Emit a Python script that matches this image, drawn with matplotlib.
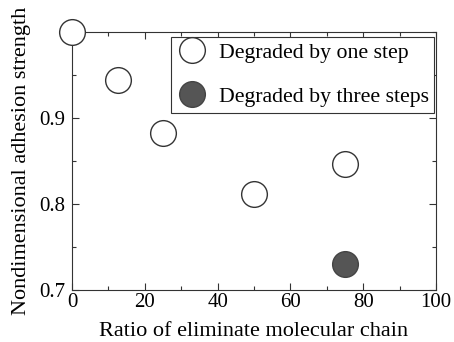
import matplotlib
matplotlib.use("Agg")
import matplotlib.pyplot as plt
from matplotlib.ticker import MultipleLocator

plt.rcParams['font.family'] = ['Liberation Serif', 'DejaVu Serif']

# data
ratio_one = [0, 12.5, 25, 50, 75]
strength_one = [1.0, 0.944, 0.882, 0.812, 0.847]
ratio_three = [75]
strength_three = [0.730]

fig = plt.figure(figsize=(4.54, 3.42), dpi=100)
ax = fig.add_axes([72/454, 1-290/342, 364/454, 258/342])

ax.plot(ratio_one, strength_one, 'o', ms=18.5, mfc='white', mec='#333333',
        mew=1.0, clip_on=False, zorder=3, label='Degraded by one step')
ax.plot(ratio_three, strength_three, 'o', ms=18.5, mfc='#555555', mec='#444444',
        mew=1.0, clip_on=False, zorder=3, label='Degraded by three steps')

ax.set_xlim(0, 100)
ax.set_ylim(0.7, 1.0)
ax.xaxis.set_major_locator(MultipleLocator(20))
ax.xaxis.set_minor_locator(MultipleLocator(10))
ax.set_yticks([0.7, 0.8, 0.9])
ax.yaxis.set_minor_locator(MultipleLocator(0.05))
ax.tick_params(which='both', direction='in', top=True, right=True,
               labelsize=15, width=0.8, color='#333333')
ax.tick_params(which='major', length=5)
ax.tick_params(which='minor', length=3)
ax.tick_params(axis='x', which='major', pad=2)
ax.tick_params(axis='y', which='major', pad=5)
for s in ax.spines.values():
    s.set_linewidth(0.8)
    s.set_color('#333333')

ax.set_xlabel('Ratio of eliminate molecular chain', fontsize=16, labelpad=7)
ax.set_ylabel('Nondimensional adhesion strength', fontsize=16, labelpad=6)

leg = ax.legend(loc='upper right', bbox_to_anchor=(0.995, 0.98), fontsize=15.7,
                fancybox=False, edgecolor='#333333', framealpha=1,
                handletextpad=0.5, borderpad=0.25, labelspacing=1.1,
                handlelength=1.45, borderaxespad=0)
leg.get_frame().set_linewidth(0.8)

fig.savefig('out.png', dpi=100)
